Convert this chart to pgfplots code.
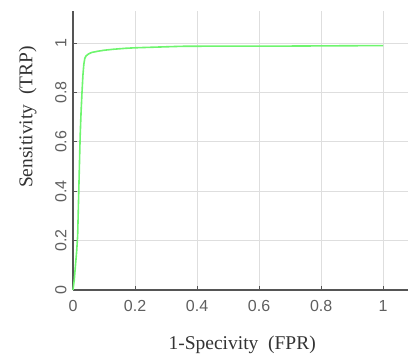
\documentclass[border=0pt]{standalone}
\usepackage{pgfplots}
\pgfplotsset{compat=1.18}
\usepackage{fontspec}
\setmainfont{Liberation Serif}
\newfontfamily\ticksans{Liberation Sans}
\definecolor{rocgreen}{RGB}{110,245,110}
\definecolor{axgray}{RGB}{85,85,85}
\definecolor{tickgray}{RGB}{95,95,95}
\definecolor{gridgray}{RGB}{222,222,222}
\begin{document}
\begin{tikzpicture}
\begin{axis}[
  at={(0,0)}, anchor=origin,
  scale only axis,
  width=335pt, height=279pt,
  xmin=0, xmax=1.08, ymin=0, ymax=1.13,
  axis lines=left,
  axis line style={axgray, line width=1.6pt, -},
  xtick={0,0.2,0.4,0.6,0.8,1},
  ytick={0,0.2,0.4,0.6,0.8,1},
  xticklabels={0,0.2,0.4,0.6,0.8,1},
  yticklabels={0,0.2,0.4,0.6,0.8,1},
  tick align=inside,
  major tick length=4pt,
  tick style={axgray, line width=0.8pt},
  grid=major,
  grid style={gridgray, line width=0.8pt},
  ticklabel style={font=\ticksans\fontsize{16}{17}\selectfont, text=tickgray},
  yticklabel style={rotate=90, anchor=south},
  yticklabel shift=3pt,
  xticklabel style={anchor=north},
  xticklabel shift=7pt,
  xlabel={1-Specivity\ \ (FPR)},
  ylabel={Sensitivity\ \ (TRP)},
  label style={font=\fontsize{19.5}{21}\selectfont, text=black!80},
  xlabel style={at={(axis description cs:0.505,0)}, anchor=north, yshift=-42pt},
  ylabel style={at={(axis description cs:0,0.62)}, anchor=south, yshift=33pt},
  clip=false,
]
\addplot[rocgreen, line width=1.6pt] coordinates {
 (0,0) (0.004,0.04) (0.008,0.1) (0.012,0.16) (0.015,0.22) (0.017,0.32)
 (0.019,0.42) (0.021,0.52) (0.023,0.62) (0.026,0.72) (0.029,0.8)
 (0.032,0.87) (0.035,0.915) (0.038,0.938) (0.042,0.948) (0.05,0.956)
 (0.06,0.962) (0.08,0.967) (0.1,0.971) (0.13,0.975) (0.17,0.979)
 (0.2,0.981) (0.25,0.983) (0.3,0.985) (0.35,0.987) (0.5,0.988)
 (0.7,0.988) (0.85,0.989) (1,0.99)
};
\end{axis}
\pgfresetboundingbox
\path[use as bounding box] (-73pt,-66pt) rectangle (336pt,290pt);
\end{tikzpicture}
\end{document}
